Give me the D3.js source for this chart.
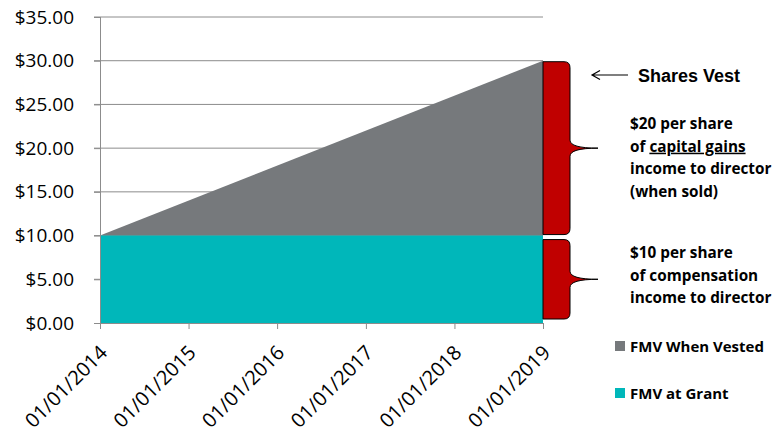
<!DOCTYPE html>
<html>
<head>
<meta charset="utf-8">
<script src="https://cdn.jsdelivr.net/npm/d3@7"></script>
<style>
  body { margin: 0; background: #fff; }
  svg { display: block; font-family: "Open Sans", sans-serif; }
</style>
</head>
<body>
<svg width="775" height="430"></svg>
<script>
// data
const dates = ['2014-01-01', '2019-01-01'];
const fmvGrant = [10, 10];
const fmvVested = [10, 30];
const yTicks = [0, 5, 10, 15, 20, 25, 30, 35];
const xTicks = ['2014-01-01', '2015-01-01', '2016-01-01', '2017-01-01', '2018-01-01', '2019-01-01'];
const upperNote = ['$20 per share', 'of capital gains', 'income to director', '(when sold)'];
const lowerNote = ['$10 per share', 'of compensation', 'income to director'];
const legendItems = [
    {name: 'FMV When Vested', color: '#76797c'},
    {name: 'FMV at Grant', color: '#00b7ba'}
];

const parse = d3.timeParse('%Y-%m-%d');
const rows = dates.map((d, i) => ({date: parse(d), grant: fmvGrant[i], vested: fmvVested[i]}));

const svg = d3.select('svg');

const x = d3.scaleTime()
    .domain([parse(xTicks[0]), parse(xTicks[xTicks.length - 1])])
    .range([100, 543]);
const y = d3.scaleLinear().domain([0, 35]).range([323, 17]);

// gridlines
svg.append('g')
    .selectAll('line')
    .data(yTicks.filter(d => d > 0))
    .enter().append('line')
        .attr('x1', 94).attr('x2', 543)
        .attr('y1', d => y(d)).attr('y2', d => y(d))
        .attr('stroke', '#8c8c8c').attr('stroke-width', 1);

// areas
svg.append('path')
    .datum(rows)
    .attr('fill', '#76797c')
    .attr('d', d3.area().x(d => x(d.date)).y0(d => y(d.grant)).y1(d => y(d.vested)));

svg.append('path')
    .datum(rows)
    .attr('fill', '#00b7ba')
    .attr('d', d3.area().x(d => x(d.date)).y0(y(0)).y1(d => y(d.grant)));

// y axis
const yAxis = svg.append('g')
    .attr('transform', 'translate(100,0)')
    .call(d3.axisLeft(y).tickValues(yTicks).tickSize(6).tickPadding(20)
        .tickFormat(d => '$' + d3.format('.2f')(d)));
yAxis.select('.domain').attr('stroke', '#8c8c8c').attr('d', 'M0.5,' + y(35) + 'V' + y(0));
yAxis.selectAll('.tick line').attr('stroke', '#8c8c8c');
yAxis.selectAll('.tick text')
    .attr('font-size', 19).attr('fill', '#000')
    .attr('font-family', '"Open Sans", sans-serif');

// x axis
const xAxis = svg.append('g')
    .attr('transform', 'translate(0,' + y(0) + ')')
    .call(d3.axisBottom(x).tickValues(xTicks.map(parse)).tickSize(6)
        .tickFormat(d3.timeFormat('%m/%d/%Y')));
xAxis.select('.domain').attr('stroke', '#8c8c8c').attr('d', 'M94,0.5H543.5');
xAxis.selectAll('.tick line').attr('stroke', '#8c8c8c');
xAxis.selectAll('.tick text')
    .attr('font-size', 20).attr('fill', '#000')
    .attr('font-family', '"Open Sans", sans-serif')
    .attr('text-anchor', 'end')
    .attr('y', 0).attr('dy', 0)
    .attr('transform', 'translate(8,31) rotate(-45)');

// braces
function brace(x0, y0, y1, x1, tip) {
    const r = 6, c = 8, m = (y0 + y1) / 2;
    return `M${x0},${y0} L${x1 - r},${y0} Q${x1},${y0} ${x1},${y0 + r}` +
        ` L${x1},${m - c} Q${x1},${m} ${tip},${m}` +
        ` Q${x1},${m} ${x1},${m + c}` +
        ` L${x1},${y1 - r} Q${x1},${y1} ${x1 - r},${y1} L${x0},${y1} Z`;
}
const braces = [
    {top: y(30) + 1, bottom: y(10) - 1},
    {top: y(10) + 4, bottom: y(0) - 4}
];
svg.append('g')
    .selectAll('path')
    .data(braces)
    .enter().append('path')
        .attr('d', d => brace(x(parse(xTicks[5])), d.top, d.bottom, 570, 598))
        .attr('fill', '#c00000')
        .attr('stroke', '#000').attr('stroke-width', 1);

// shares vest arrow
svg.append('path')
    .attr('d', 'M628,75H592 M600,70.5L592,75L600,79.5')
    .attr('fill', 'none').attr('stroke', '#000').attr('stroke-width', 1.2);
svg.append('text')
    .attr('x', 638).attr('y', 82)
    .attr('font-family', '"Liberation Sans", Arial, sans-serif')
    .attr('font-weight', 'bold').attr('font-size', 18)
    .text('Shares Vest');

// notes
function note(lines, y0) {
    const t = svg.append('text')
        .attr('font-weight', 'bold').attr('font-size', 15.3)
        .attr('fill', '#000');
    lines.forEach((l, i) => {
        const ts = t.append('tspan').attr('x', 630).attr('y', y0 + i * 22.7);
        if (l === 'of capital gains') {
            ts.text('of ');
            t.append('tspan').attr('text-decoration', 'underline').text('capital gains');
        } else {
            ts.text(l);
        }
    });
}
note(upperNote, 129);
note(lowerNote, 258);

// legend
const legend = svg.append('g')
    .selectAll('g')
    .data(legendItems)
    .enter().append('g')
        .attr('transform', (d, i) => 'translate(615,' + (341 + i * 47) + ')');
legend.append('rect')
    .attr('width', 10).attr('height', 10)
    .attr('fill', d => d.color);
legend.append('text')
    .attr('x', 15).attr('y', 10.5)
    .attr('font-weight', 'bold').attr('font-size', 15)
    .text(d => d.name);
</script>
</body>
</html>
